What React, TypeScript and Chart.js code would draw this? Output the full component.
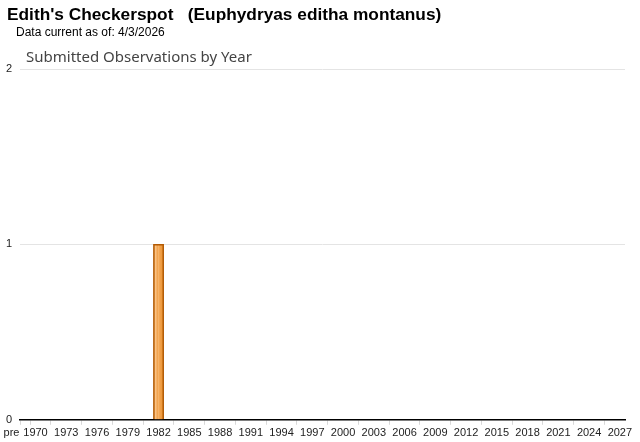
import React, { useEffect, useRef } from "react";
import { Chart, registerables } from "chart.js";

Chart.register(...registerables);

const TITLE = "Edith's Checkerspot   (Euphydryas editha montanus)";
const SUBTITLE = "Data current as of: 4/3/2026";
const CHART_TITLE = "Submitted Observations by Year";

const years: number[] = [];
for (let y = 1970; y <= 2027; y++) years.push(y);
const categories: string[] = ["pre", ...years.map(String)];

// observation counts per category (only 1982 has one observation)
const observedYears = ["1982"];
const observedCounts = [1];

const values: number[] = categories.map((c) => {
  const i = observedYears.indexOf(c);
  return i >= 0 ? observedCounts[i] : 0;
});

const yTicks = [0, 1, 2];

export default function App() {
  const ref = useRef<HTMLCanvasElement | null>(null);

  useEffect(() => {
    if (!ref.current) return;
    const chart = new Chart(ref.current, {
      type: "bar",
      data: {
        labels: categories,
        datasets: [
          {
            data: values,
            backgroundColor: (c: any) => {
              const ch = c.chart;
              const xs = ch.scales && ch.scales.x;
              if (!ch.chartArea || !xs) return "#f2a24c";
              const x = xs.getPixelForValue(c.dataIndex);
              const w = xs.width / categories.length;
              const g = ch.ctx.createLinearGradient(x - w / 2, 0, x + w / 2, 0);
              g.addColorStop(0, "#e38c30");
              g.addColorStop(0.22, "#fbc68a");
              g.addColorStop(0.38, "#f2a24c");
              g.addColorStop(0.5, "#f6b46a");
              g.addColorStop(0.62, "#f2a24c");
              g.addColorStop(1, "#e8922f");
              return g;
            },
            borderColor: "#b35a02",
            borderWidth: 1.5,
            barPercentage: 1,
            categoryPercentage: 1,
          },
        ],
      },
      options: {
        responsive: false,
        animation: false,
        layout: { padding: { top: 69, left: -2, right: 15, bottom: 0 } },
        plugins: {
          legend: { display: false },
          tooltip: { enabled: false },
          title: { display: false },
        },
        scales: {
          x: {
            afterFit: (axis: any) => {
              axis.paddingLeft = 0;
            },
            grid: {
              drawOnChartArea: false,
              drawTicks: true,
              tickLength: 5,
              color: "#d8d8d8",
            },
            border: { display: true, color: "#000000", width: 1.5 },
            ticks: {
              autoSkip: false,
              maxRotation: 0,
              minRotation: 0,
              padding: 2,
              color: "#222222",
              font: { family: "Liberation Sans, Arial", size: 11 },
              callback: (_v: any, i: number) => {
                const c = categories[i];
                if (c === "pre") return "pre         ";
                const y = parseInt(c, 10);
                return (y - 1970) % 3 === 0 ? c : null;
              },
            },
          },
          y: {
            min: 0,
            max: 2,
            afterBuildTicks: (axis: any) => {
              axis.ticks = yTicks.map((v) => ({ value: v }));
            },
            grid: { drawTicks: false, color: "#e4e4e4" },
            border: { display: false },
            ticks: {
              padding: 8,
              color: "#222222",
              font: { family: "Liberation Sans, Arial", size: 11 },
            },
          },
        },
      },
    });
    return () => chart.destroy();
  }, []);

  return (
    <div
      style={{
        position: "fixed",
        left: 0,
        top: 0,
        width: 640,
        height: 442,
        background: "#ffffff",
        overflow: "hidden",
      }}
    >
      <canvas ref={ref} width={640} height={442} style={{ position: "absolute", left: 0, top: 0 }} />
      <div
        style={{
          position: "absolute",
          left: 7,
          top: 4,
          font: "bold 17.3px 'Liberation Sans', Arial, sans-serif",
          color: "#000",
          whiteSpace: "pre",
          lineHeight: "20px",
        }}
      >
        {TITLE}
      </div>
      <div
        style={{
          position: "absolute",
          left: 16,
          top: 24,
          font: "12px 'Liberation Sans', Arial, sans-serif",
          color: "#000",
          whiteSpace: "pre",
          lineHeight: "16px",
        }}
      >
        {SUBTITLE}
      </div>
      <div
        style={{
          position: "absolute",
          left: 26,
          top: 46,
          font: "15px 'Noto Sans', sans-serif",
          color: "#444",
          whiteSpace: "pre",
          lineHeight: "21px",
        }}
      >
        {CHART_TITLE}
      </div>
    </div>
  );
}
